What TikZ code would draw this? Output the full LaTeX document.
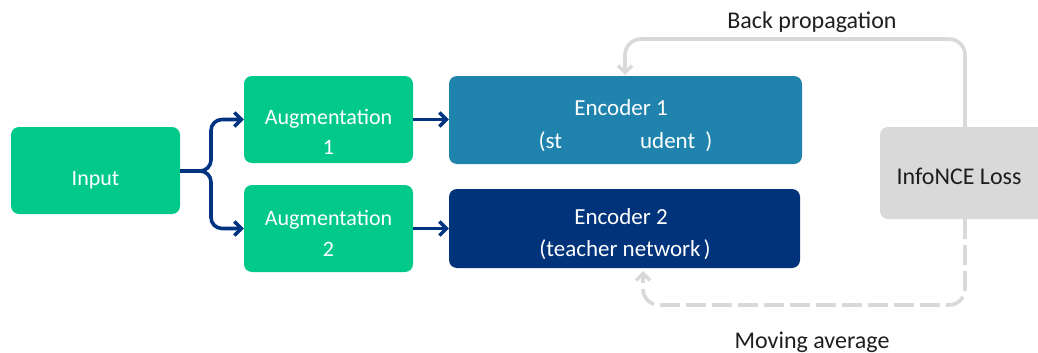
\documentclass[tikz,border=0pt]{standalone}
\usepackage{fontspec}
\setmainfont{Carlito}
\usetikzlibrary{arrows.meta}
\definecolor{cgreen}{RGB}{0,201,138}
\definecolor{cenc}{RGB}{31,131,174}
\definecolor{cteach}{RGB}{0,51,122}
\definecolor{cgray}{RGB}{217,217,217}
\definecolor{cnavy}{RGB}{0,51,128}
\definecolor{ctext}{RGB}{30,30,30}
\tikzset{
  box/.style={rounded corners=8pt, inner sep=0pt, draw=none},
  txt/.style={font=\fontsize{22}{26}\selectfont, anchor=base, inner sep=0pt},
  wtxt/.style={txt, text=white},
  btxt/.style={txt, font=\fontsize{24}{28}\selectfont, text=ctext},
  navyarrow/.style={draw=cnavy, line width=3.6pt, -{Straight Barb[length=7pt,width=14pt,line width=3.4pt]}, rounded corners=11pt},
  grayarrow/.style={draw=cgray, line width=3.6pt, -{Straight Barb[length=7pt,width=14pt,line width=3.4pt]}, rounded corners=16pt},
}
\begin{document}
\begin{tikzpicture}[x=1pt,y=-1pt]
\useasboundingbox (0,0) rectangle (1038,353);
% boxes
\node[box, fill=cgreen, minimum width=169pt, minimum height=87pt] (input) at (95.5,170.5) {};
\node[box, fill=cgreen, minimum width=169pt, minimum height=87pt] (aug1) at (328.5,119.5) {};
\node[box, fill=cgreen, minimum width=169pt, minimum height=87pt] (aug2) at (328.5,228.5) {};
\node[box, fill=cenc, minimum width=353pt, minimum height=88pt] (enc1) at (625.5,120) {};
\node[box, fill=cteach, minimum width=351pt, minimum height=79pt] (enc2) at (624.5,228.5) {};
\node[box, fill=cgray, minimum width=176pt, minimum height=92pt] (loss) at (968,173) {};
% texts
\node[wtxt] (tinput) at (95.5,185) {Input};
\node[wtxt] (taug1a) at (328.5,124) {Augmentation};
\node[wtxt] (taug1b) at (328.5,154) {1};
\node[wtxt] (taug2a) at (328.5,225) {Augmentation};
\node[wtxt] (taug2b) at (328.5,256) {2};
\node[wtxt, font=\fontsize{23}{27}\selectfont] (tenc1a) at (621,115) {Encoder 1};
\node[wtxt, font=\fontsize{23}{27}\selectfont] (tenc1b) at (625.5,148) {(st\hspace{78pt}udent\hspace{10pt})};
\node[wtxt, font=\fontsize{23}{27}\selectfont] (tenc2a) at (621,224) {Encoder 2};
\node[wtxt, font=\fontsize{23}{27}\selectfont] (tenc2b) at (625,256) {(teacher network\hspace{3pt})};
\node[btxt] (tloss) at (959,184) {InfoNCE Loss};
\node[btxt] (tback) at (812,29) {Back propagation};
\node[btxt] (tmove) at (812,348) {Moving average};
% navy arrows
\coordinate (fork) at (211,171);
\draw[navyarrow] (input.east |- fork) -- (fork) |- (aug1.west);
\draw[navyarrow] (input.east |- fork) -- (fork) |- (aug2.west);
\draw[navyarrow] (aug1.east) -- (enc1.west |- aug1.east);
\draw[navyarrow] (aug2.east) -- (enc2.west |- aug2.east);
% gray loops
\coordinate (bp1) at (965,39);
\coordinate (ma1) at (965,305);
\draw[grayarrow] (loss.north -| bp1) -- (bp1) -- (625,39) -- (625,75);
\draw[grayarrow, dash pattern=on 20pt off 6pt] (loss.south -| ma1) -- (ma1) -- (643,305) -- (643,271);
\end{tikzpicture}
\end{document}
